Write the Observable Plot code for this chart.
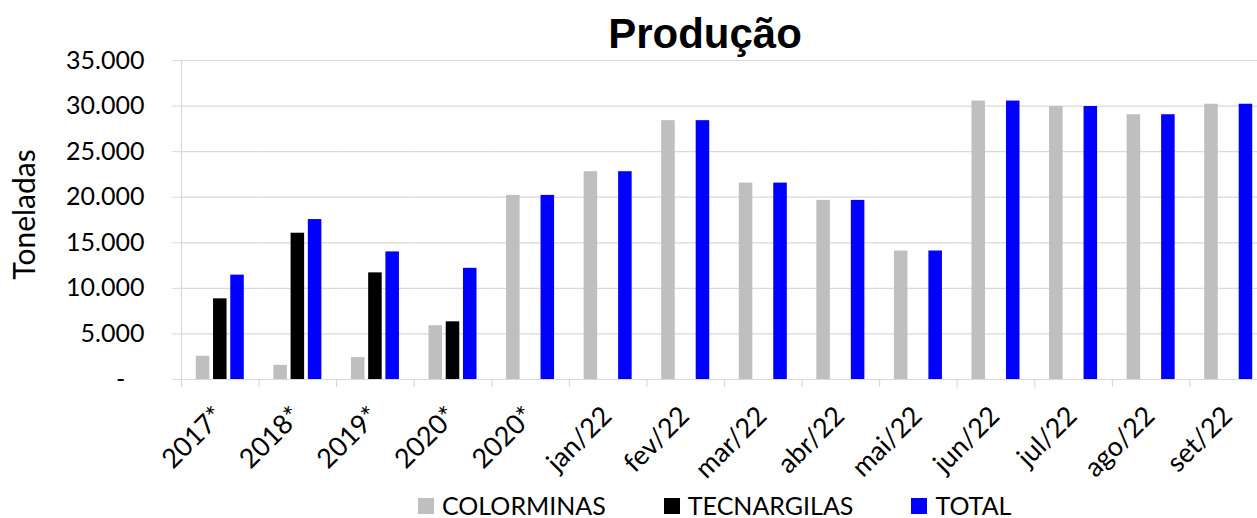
<!DOCTYPE html>
<html>
<head>
<meta charset="utf-8">
<script src="https://cdn.jsdelivr.net/npm/d3@7"></script>
<script src="https://cdn.jsdelivr.net/npm/@observablehq/plot@0.6"></script>
<style>
  html, body { margin: 0; padding: 0; background: #fff; overflow: hidden; width: 1257px; height: 518px; }
  body { position: relative; font-family: Lato, sans-serif; color: #000; }
  #title { position: absolute; left: 0; top: 13px; width: 1410px; text-align: center;
           font: bold 42px/1 "Liberation Sans", Arial, sans-serif; }
  #chart { padding-top: 40px; }
  #chart svg { display: block; }
  #legend { display: flex; align-items: center; margin-left: 418px; padding-top: 7px; height: 25px;
            font-size: 25px; line-height: 1; white-space: nowrap; }
  .item { display: flex; align-items: center; margin-right: 58px; }
  .sw { width: 16px; height: 16px; margin-right: 8px; }
</style>
</head>
<body>
<div id="title">Produção</div>
<div id="chart"></div>
<div id="legend"></div>
<script>
// ---- data ----
const categories = ["2017*", "2018*", "2019*", "2020*", "2020*", "jan/22", "fev/22", "mar/22", "abr/22", "mai/22", "jun/22", "jul/22", "ago/22", "set/22"];
const colorminas = [2550, 1550, 2400, 5900, 20200, 22800, 28400, 21550, 19650, 14100, 30550, 29950, 29050, 30200];
const tecnargilas = [8850, 16050, 11700, 6330, null, null, null, null, null, null, null, null, null, null];
const total = [11450, 17550, 14000, 12200, 20200, 22800, 28400, 21550, 19650, 14100, 30550, 29950, 29050, 30200];
const seriesNames = ["COLORMINAS", "TECNARGILAS", "TOTAL"];
const seriesColors = ["#bfbfbf", "#000000", "#0000ff"];
const yTicks = [0, 5000, 10000, 15000, 20000, 25000, 30000, 35000];
const yLabel = "Toneladas";

// ---- table ----
const keys = categories.map((c, i) => i + "|" + c);
const labelOf = k => k.split("|")[1];
const seriesValues = [colorminas, tecnargilas, total];
const rows = [];
categories.forEach((c, i) => {
  seriesValues.forEach((arr, j) => {
    if (arr[i] != null) rows.push({key: keys[i], series: seriesNames[j], value: arr[i]});
  });
});
const fmt = d3.formatLocale({decimal: ",", thousands: ".", grouping: [3], currency: ["", ""]}).format(",");

const plot = Plot.plot({
  width: 1257,
  height: 446,
  marginTop: 20,
  marginBottom: 107,
  marginLeft: 181,
  marginRight: -10,
  style: {fontFamily: "Lato, sans-serif", fontSize: "25px", color: "#000", background: "#fff", overflow: "hidden"},
  fx: {domain: keys, padding: 0, round: false, label: null},
  x: {domain: seriesNames, paddingInner: 0.215, paddingOuter: 0.857, round: false, axis: null},
  y: {domain: [0, 35000], label: null},
  color: {domain: seriesNames, range: seriesColors},
  marks: [
    Plot.gridY(yTicks, {stroke: "#d9d9d9", strokeOpacity: 1, strokeWidth: 1.2}),
    Plot.frame({anchor: "left", facetAnchor: "left", insetBottom: -7, stroke: "#d9d9d9", strokeWidth: 1.2}),
    Plot.frame({anchor: "left", insetTop: 319, insetBottom: -7, stroke: "#d9d9d9", strokeWidth: 1.2}),
    Plot.barY(rows, {fx: "key", x: "series", y: "value", fill: "series"}),
    Plot.axisY(yTicks, {tickSize: 9, tickPadding: 28, tickFormat: d => d === 0 ? "-   " : fmt(d),
      stroke: "#d9d9d9", fill: "#000", strokeOpacity: 1, label: null}),
    Plot.axisFx({anchor: "bottom", tickSize: 0, tickPadding: 32, tickRotate: -45, dx: -1,
      fontSize: 27, tickFormat: labelOf, label: null, fill: "#000"}),
    Plot.text([yLabel], {text: d => d, frameAnchor: "left", facetAnchor: "left", rotate: -90,
      textAnchor: "middle", dx: -156, dy: -5.5, fontSize: 30, fill: "#000"})
  ]
});
document.getElementById("chart").appendChild(plot);

// ---- legend ----
const legend = document.getElementById("legend");
seriesNames.forEach((name, i) => {
  const item = document.createElement("div");
  item.className = "item";
  const sw = document.createElement("div");
  sw.className = "sw";
  sw.style.background = seriesColors[i];
  const label = document.createElement("span");
  label.textContent = name;
  item.appendChild(sw);
  item.appendChild(label);
  legend.appendChild(item);
});
</script>
</body>
</html>
